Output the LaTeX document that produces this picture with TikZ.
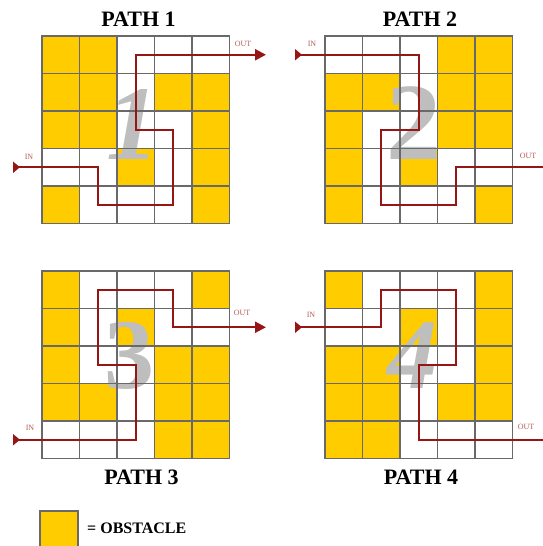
\documentclass[tikz,border=0pt]{standalone}
\usepackage{fontspec}
\setmainfont{Liberation Serif}
\usetikzlibrary{arrows.meta}
\definecolor{obsyellow}{RGB}{255,204,0}
\definecolor{gridgray}{RGB}{105,105,105}
\definecolor{pathred}{RGB}{150,22,22}
\definecolor{labred}{RGB}{180,95,85}
\definecolor{numgray}{RGB}{190,190,190}
\tikzset{
  cell/.style={minimum size=37.5pt, inner sep=0pt, outer sep=0pt, draw=none},
  cellfill/.code={\ifnum#1=1 \pgfkeysalso{fill=obsyellow}\else\pgfkeysalso{fill=white}\fi},
  gridline/.style={draw=gridgray, line width=1.2pt},
  route/.style={draw=pathred, line width=2.2pt, line join=miter,
     {Triangle[reversed,length=7pt,width=11pt]}-{Triangle[length=11pt,width=11pt]}},
  lab/.style={text=labred, font=\fontsize{8}{9}\selectfont, inner sep=0pt},
  title/.style={font=\fontsize{22}{26}\selectfont\bfseries, inner sep=0pt},
  bignum/.style={text=numgray, inner sep=0pt, anchor=base},
  legendtxt/.style={font=\fontsize{16}{19}\selectfont\bfseries, inner sep=0pt, anchor=west}
}
\newcommand{\mygrid}[4]{%
  \foreach \rowv [count=\ri] in {#4} {
    \foreach \v [count=\ci] in \rowv {
      \node[cell, cellfill=\v] (#1-\ri-\ci) at ({#2+(\ci-0.5)*37.5}, {#3+(\ri-0.5)*37.5}) {};
    }
  }%
}
\newcommand{\mygridlines}[1]{%
  \foreach \ri in {1,...,5} {
    \foreach \ci in {1,...,5} {
      \draw[gridline] (#1-\ri-\ci.north west) rectangle (#1-\ri-\ci.south east);
    }
  }%
}
\begin{document}
\begin{tikzpicture}[x=1pt, y=-1pt]
\path[use as bounding box] (0,0) rectangle (543,546);
\clip (0,0) rectangle (543,546);
\fill[white] (0,0) rectangle (543,546);

% cells
\mygrid{ga}{42}{36}{{1,1,0,0,0},{1,1,0,1,1},{1,1,0,0,1},{0,0,1,0,1},{1,0,0,0,1}}
\mygrid{gb}{325}{36}{{0,0,0,1,1},{1,1,0,1,1},{1,0,0,1,1},{1,0,1,0,0},{1,0,0,0,1}}
\mygrid{gc}{42}{271}{{1,0,0,0,1},{1,0,1,0,0},{1,0,0,1,1},{1,1,0,1,1},{0,0,0,1,1}}
\mygrid{gd}{325}{271}{{1,0,0,0,1},{0,0,1,0,1},{1,1,0,0,1},{1,1,0,1,1},{1,1,0,0,0}}

% big numbers
\node[bignum, font=\fontsize{106}{110}\selectfont\bfseries\itshape] (na) at (133,159) {1};
\node[bignum, font=\fontsize{110}{112}\selectfont\bfseries] (nb) at (414,159) {2};
\node[bignum, font=\fontsize{100}{104}\selectfont\bfseries] (nc) at (129,388) {3};
\node[bignum, font=\fontsize{100}{104}\selectfont\bfseries\itshape] (nd) at (412,388) {4};

% grid lines
\mygridlines{ga}
\mygridlines{gb}
\mygridlines{gc}
\mygridlines{gd}

% in / out points
\coordinate (ina) at (13,167.25);
\coordinate (outa) at (266,54.75);
\coordinate (inb) at (295,54.75);
\coordinate (outb) at (556,167.25);
\coordinate (inc) at (13,439.75);
\coordinate (outc) at (266,327.25);
\coordinate (ind) at (295,327.25);
\coordinate (outd) at (556,439.75);

% routes
\draw[route] (ina) -- (ga-4-2.center) -- (ga-5-2.center) -- (ga-5-4.center) -- (ga-3-4.center) -- (ga-3-3.center) -- (ga-1-3.center) -- (outa);
\draw[route] (inb) -- (gb-1-3.center) -- (gb-3-3.center) -- (gb-3-2.center) -- (gb-5-2.center) -- (gb-5-4.center) -- (gb-4-4.center) -- (outb);
\draw[route] (inc) -- (gc-5-3.center) -- (gc-3-3.center) -- (gc-3-2.center) -- (gc-1-2.center) -- (gc-1-4.center) -- (gc-2-4.center) -- (outc);
\draw[route] (ind) -- (gd-2-2.center) -- (gd-1-2.center) -- (gd-1-4.center) -- (gd-3-4.center) -- (gd-3-3.center) -- (gd-5-3.center) -- (outd);

% in/out labels
\node[lab] (la1) at (29,157) {IN};
\node[lab] (la2) at (243,43.5) {OUT};
\node[lab] (lb1) at (312,43.5) {IN};
\node[lab] (lb2) at (528,156) {OUT};
\node[lab] (lc1) at (30,428) {IN};
\node[lab] (lc2) at (242,313) {OUT};
\node[lab] (ld1) at (311,315) {IN};
\node[lab] (ld2) at (526,427) {OUT};

% titles
\node[title] (ta) at (138.5,19.5) {PATH 1};
\node[title] (tb) at (420,19.5) {PATH 2};
\node[title] (tc) at (141.5,477.5) {PATH 3};
\node[title] (td) at (421,477.5) {PATH 4};

% legend
\node[cell, minimum size=38pt, fill=obsyellow, draw=gridgray, line width=1.2pt] (legend) at (59,530) {};
\node[legendtxt] (legendlab) at (87,528) {= OBSTACLE};
\end{tikzpicture}
\end{document}
